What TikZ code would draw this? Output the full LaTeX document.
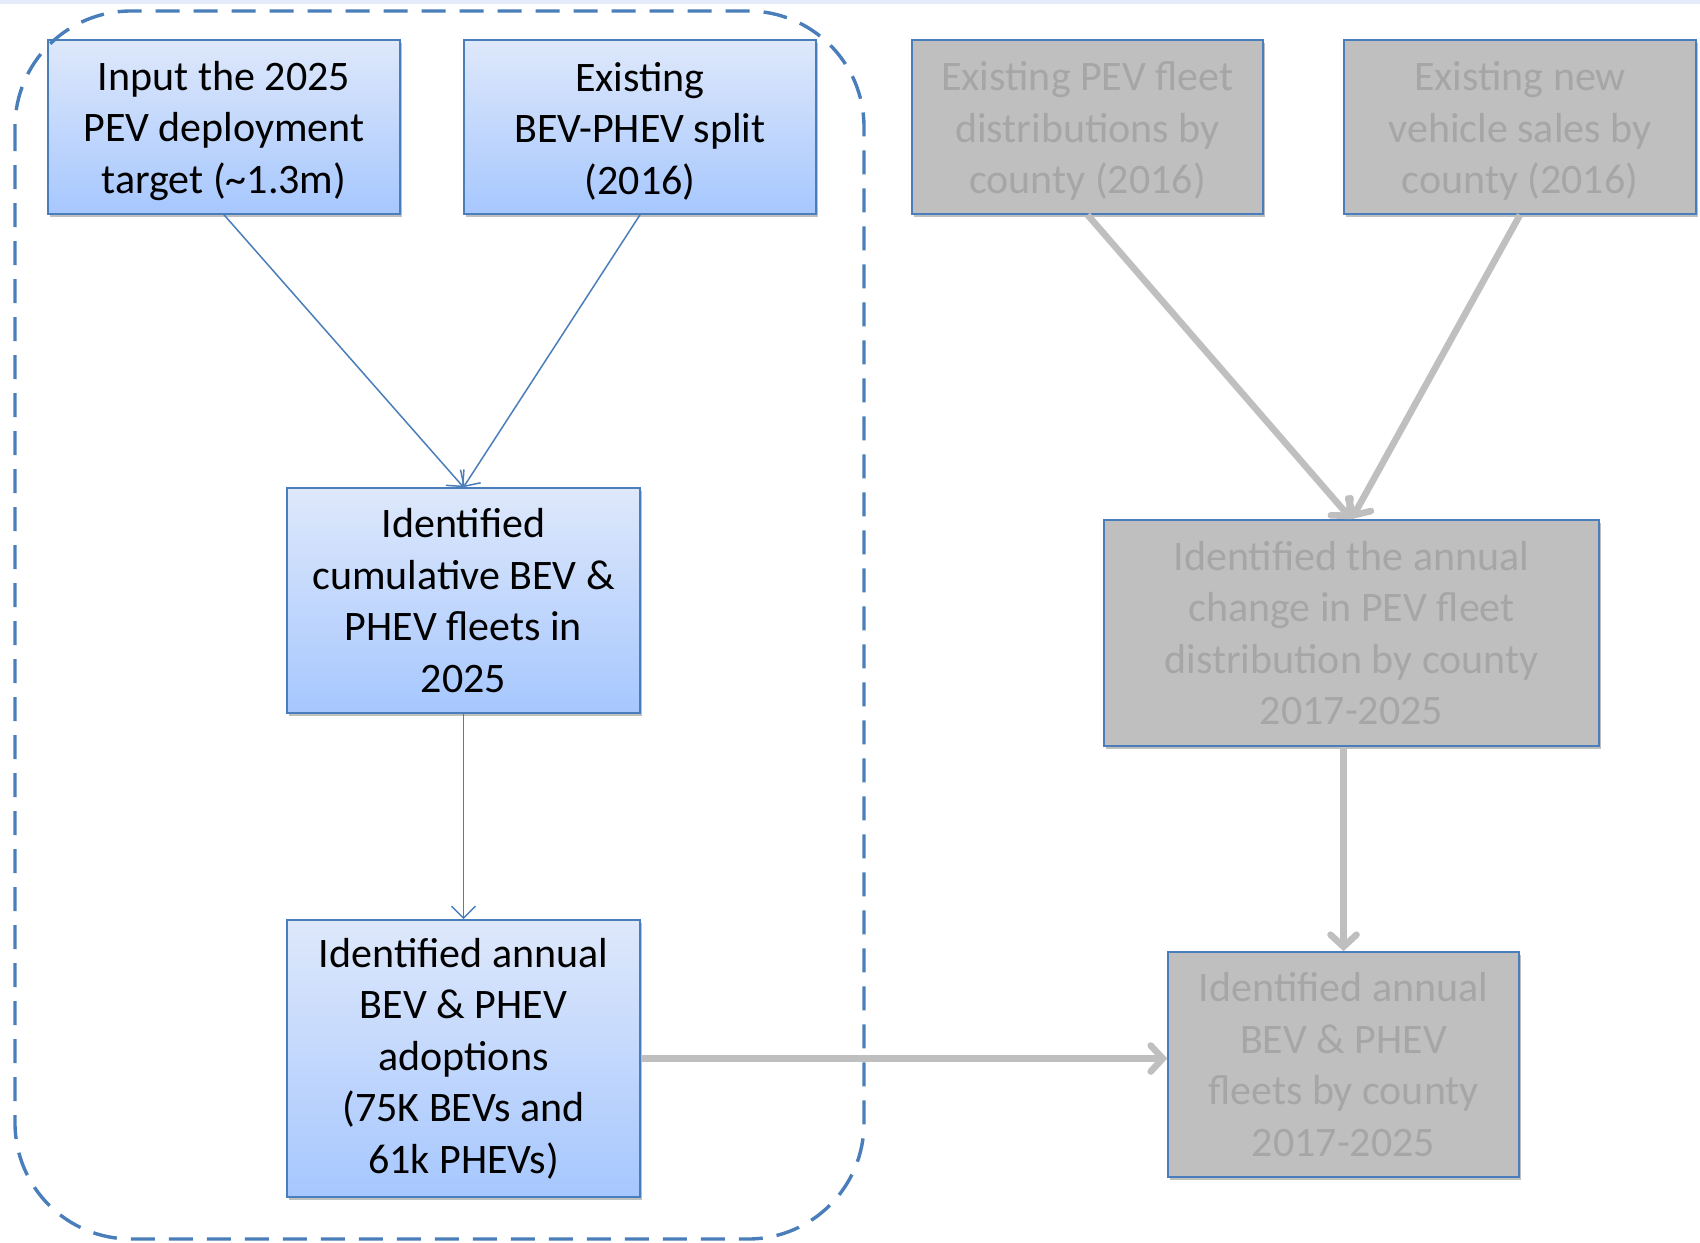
\documentclass[tikz,border=0pt]{standalone}
\usepackage{fontspec}
\setmainfont{Carlito}
\usetikzlibrary{arrows.meta,shadows,calc}
\definecolor{bord}{HTML}{4A7EBB}
\definecolor{topc}{HTML}{DEE8FB}
\definecolor{botc}{HTML}{A6C7FE}
\definecolor{grayfill}{HTML}{BFBFBF}
\definecolor{graytext}{HTML}{A6A6A6}
\definecolor{grayarrow}{HTML}{BFBFBF}
\definecolor{topline}{HTML}{E3ECF8}
\tikzset{
  boxbase/.style={draw=bord, line width=0.8pt, align=center, inner sep=0pt,
    font=\fontsize{21}{25.75}\selectfont,
    drop shadow={shadow xshift=1pt, shadow yshift=-1.5pt, opacity=0.25, fill=black}},
  bluebox/.style={boxbase, top color=topc, bottom color=botc, text=black},
  graybox/.style={boxbase, fill=grayfill, text=graytext},
  bluearrow/.style={draw=bord, line width=0.75pt, -{Straight Barb[length=6pt,width=12pt]}},
  grayarr/.style={draw=grayarrow, line width=3.3pt, -{Straight Barb[length=6pt,width=13pt,line cap=round]}},
  groupframe/.style={draw=bord, line width=1.7pt, dash pattern=on 12pt off 7pt, rounded corners=58pt}
}
\begin{document}
\begin{tikzpicture}[x=0.5pt,y=-0.5pt]
\useasboundingbox (0,0) rectangle (1700,1242);
\fill[white] (0,0) rectangle (1700,1242);
\fill[topline] (0,0) rectangle (1700,4);

\node[bluebox, minimum width=176pt, minimum height=87pt] (A) at (224,127)
  {\rule{0pt}{18.5pt}Input the 2025\\PEV deployment\\target (\textasciitilde 1.3m)};
\node[bluebox, minimum width=176pt, minimum height=87pt] (B) at (640,127)
  {\rule{0pt}{18.5pt}Existing\\BEV-PHEV split\\(2016)};
\node[bluebox, minimum width=176.5pt, minimum height=112.5pt] (C) at (463.5,600.5)
  {Identified\\cumulative BEV \&\\PHEV fleets in\\2025};
\node[bluebox, minimum width=176.5pt, minimum height=138.5pt] (D) at (463.5,1058.5)
  {Identified annual\\BEV \& PHEV\\adoptions\\(75K BEVs and\\61k PHEVs)};

\node[graybox, minimum width=175.5pt, minimum height=87pt] (G1) at (1087.5,127)
  {\rule{0pt}{18.5pt}Existing PEV fleet\\distributions by\\county (2016)};
\node[graybox, minimum width=176pt, minimum height=87pt] (G2) at (1520,127)
  {\rule{0pt}{18.5pt}Existing new\\vehicle sales by\\county (2016)};
\node[graybox, minimum width=247.5pt, minimum height=113pt] (G3) at (1351.5,633)
  {Identified the annual\\change in PEV fleet\\distribution by county\\2017-2025};
\node[graybox, minimum width=175.5pt, minimum height=112.5pt] (G4) at (1343.5,1064.5)
  {Identified annual\\BEV \& PHEV\\fleets by county\\2017-2025};

\draw[bluearrow] (A.south) -- (C.north);
\draw[bluearrow] (B.south) -- (C.north);
\draw[bluearrow] (C.south) -- (D.north);

\draw[grayarr] (G1.south) -- (G3.north);
\draw[grayarr] (G2.south) -- (G3.north);
\draw[grayarr] (G3.south -| G4.north) -- (G4.north);
\draw[grayarr] (D.east) -- (D.east -| G4.west);

\draw[groupframe] (15,11) rectangle (864,1239);
\end{tikzpicture}
\end{document}
